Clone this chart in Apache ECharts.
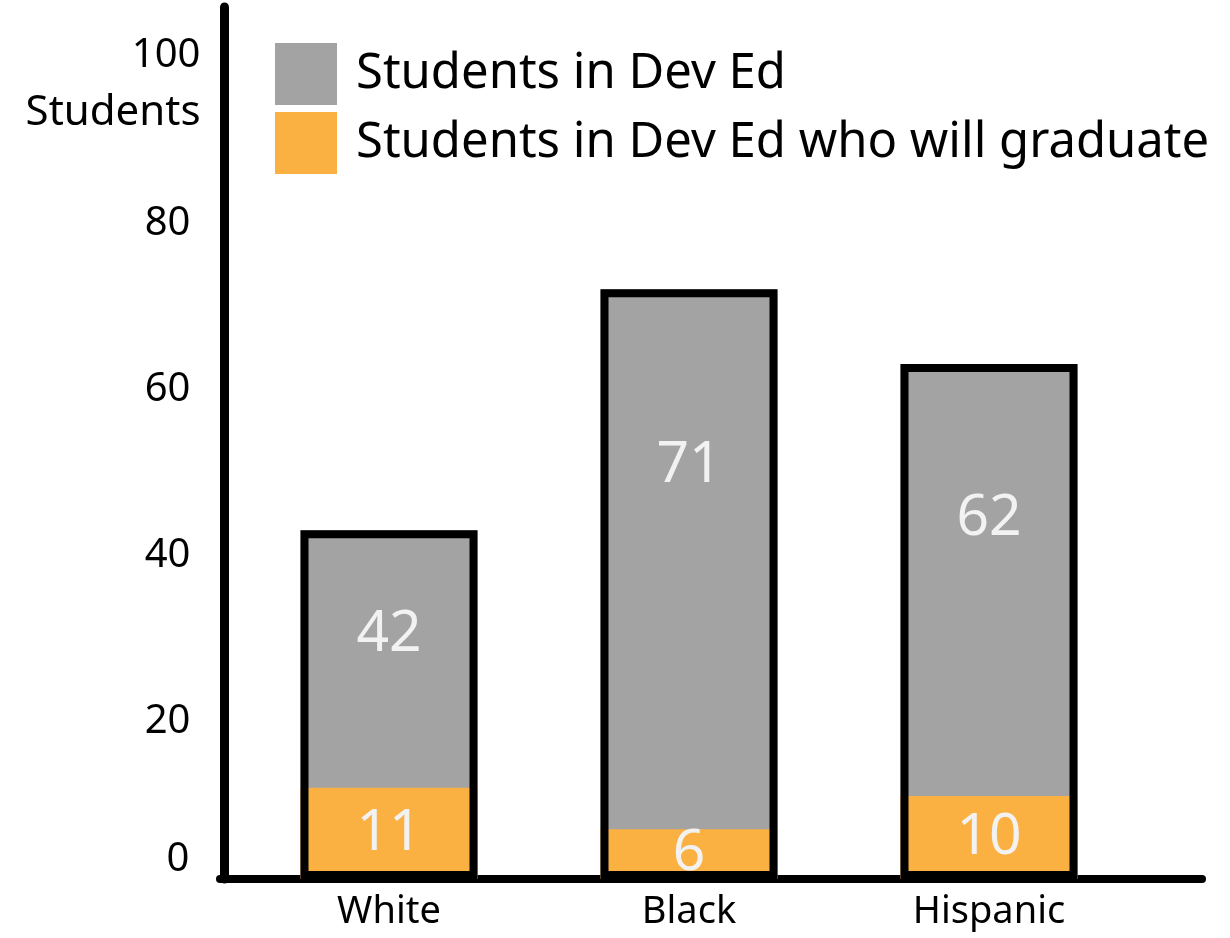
<!DOCTYPE html>
<html>
<head>
<meta charset="utf-8">
<script src="https://cdn.jsdelivr.net/npm/echarts@6/dist/echarts.min.js"></script>
<style>
  html, body { margin: 0; padding: 0; background: #fff; }
  #main { width: 1230px; height: 938px; }
</style>
</head>
<body>
<div id="main"></div>
<script>
// data
const categories = ['White', 'Black', 'Hispanic'];
const devEd = [42, 71, 62];
const graduate = [11, 6, 10];
const yUnit = 'Students';

const gray = '#a3a3a3';
const orange = '#fbb042';
const font = 'Noto Sans';

const myChart = echarts.init(document.getElementById('main'));

const option = {
  animation: false,
  textStyle: { fontFamily: font },
  legend: {
    orient: 'vertical',
    left: 275,
    top: 43,
    padding: 0,
    itemWidth: 62,
    itemHeight: 62,
    itemGap: 7,
    icon: 'rect',
    textStyle: { fontSize: 49, color: '#000', fontFamily: font, padding: [4, 0, 0, 14] },
    data: ['Students in Dev Ed', 'Students in Dev Ed who will graduate']
  },
  grid: [
    { left: 239, right: 91, top: 7, bottom: 59 },
    // only used for the long x axis line
    { left: 220, right: 28, top: 7, bottom: 59 }
  ],
  xAxis: [
    {
      type: 'category',
      gridIndex: 0,
      data: categories,
      axisLine: { show: false },
      axisTick: { show: false },
      axisLabel: { fontSize: 38, color: '#000', margin: 14, fontFamily: font }
    },
    {
      type: 'value',
      gridIndex: 1,
      min: 0,
      max: 1,
      axisLine: { show: true, onZero: false, lineStyle: { color: '#000', width: 8 } },
      axisTick: { show: false },
      axisLabel: { show: false },
      splitLine: { show: false }
    }
  ],
  yAxis: [
    {
      type: 'value',
      gridIndex: 0,
      min: 0,
      max: 105,
      interval: 20,
      offset: 14.5,
      name: yUnit,
      nameLocation: 'end',
      nameGap: -106,
      nameTextStyle: { fontSize: 42, color: '#000', align: 'right', verticalAlign: 'middle', padding: [0, 24, 0, 0] },
      axisLine: { show: true, lineStyle: { color: '#000', width: 9 } },
      axisTick: { show: false },
      splitLine: { show: false },
      axisLabel: {
        margin: 24,
        formatter: (v) => {
          if (v === 0) return '{z|0}';
          if (v === 100) return '{h|100}';
          return '{n|' + v + '}';
        },
        rich: {
          z: { fontSize: 40, color: '#000', padding: [0, 11, 38, 0] },
          h: { fontSize: 40, color: '#000', padding: [14, 0, 0, 0] },
          n: { fontSize: 40, color: '#000', padding: [18, 10, 0, 0] }
        }
      }
    },
    {
      type: 'value',
      gridIndex: 1,
      show: false,
      min: 0,
      max: 1
    }
  ],
  series: [
    {
      name: 'Students in Dev Ed',
      type: 'bar',
      data: devEd,
      barWidth: 177,
      barGap: '-100%',
      itemStyle: { color: gray },
      label: {
        show: true,
        position: ['50%', '30%'],
        align: 'center',
        verticalAlign: 'middle',
        fontSize: 57,
        color: '#f2f2f2',
        fontFamily: font
      }
    },
    {
      name: 'Students in Dev Ed who will graduate',
      type: 'bar',
      data: graduate,
      barWidth: 177,
      barGap: '-100%',
      itemStyle: { color: orange },
      label: {
        show: true,
        position: 'inside',
        fontSize: 57,
        color: '#f2f2f2',
        fontFamily: font
      }
    },
    {
      // black outline around the whole bar
      name: 'outline',
      type: 'bar',
      data: devEd,
      barWidth: 177,
      barGap: '-100%',
      silent: true,
      itemStyle: { color: 'rgba(0,0,0,0)', borderColor: '#000', borderWidth: 8 }
    }
  ]
};

myChart.setOption(option);
window.onresize = () => {
  myChart && myChart.resize();
};
</script>
</body>
</html>
